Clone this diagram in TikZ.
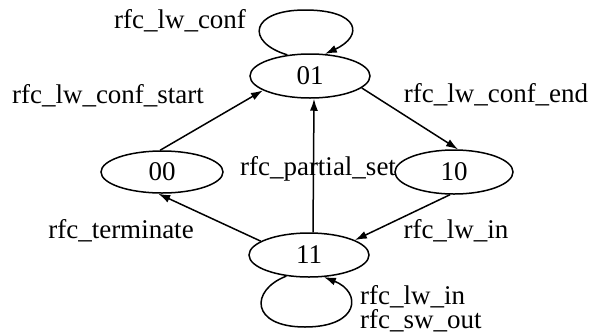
\documentclass[tikz,border=0pt]{standalone}
\usepackage{fontspec}
\setmainfont{Liberation Serif}
\usetikzlibrary{shapes.geometric,arrows.meta}
\begin{document}
\begin{tikzpicture}[x=1pt,y=-1pt,
  font=\fontsize{27}{30}\selectfont,
  state/.style={ellipse,draw,line width=1.5pt,inner sep=0pt,
    minimum width=120pt,minimum height=44pt},
  trans/.style={line width=1.5pt,-{Latex[length=12pt,width=8pt]}},
  lbl/.style={inner sep=0pt,anchor=base}]
\useasboundingbox (0,0) rectangle (591,335);

% states
\node[state] (s01) at (310,76)  {01};
\node[state,minimum width=122pt,minimum height=42pt] (s00) at (162,172) {00};
\node[state,minimum width=118pt] (s10) at (454,172) {10};
\node[state] (s11) at (309,255) {11};

% transitions
\draw[trans] (s00.95) -- (s01.197);
\draw[trans] (s01.-13) -- (s10.80);
\draw[trans] ([xshift=4pt]s11.north) -- ([xshift=4pt]s01.south);
\draw[trans] (s10.-100) -- (s11.18);
\draw[trans] (s11.164) -- (s00.-100);

% self loops
\draw[trans] (s01.137) .. controls (245,42) and (250,10) .. (305,10)
  .. controls (360,10) and (364,36) .. (s01.56);
\draw[trans] (s11.-137) .. controls (250,290) and (250,327) .. (305,327)
  .. controls (360,327) and (362,292) .. (s11.-56);

% transition labels
\node[lbl] (l1) at (180,28)  {rfc\_lw\_conf};
\node[lbl] (l2) at (108,103) {rfc\_lw\_conf\_start};
\node[lbl] (l3) at (496,102) {rfc\_lw\_conf\_end};
\node[lbl] (l4) at (318,175) {rfc\_partial\_set};
\node[lbl] (l5) at (121,238) {rfc\_terminate};
\node[lbl] (l6) at (456,238) {rfc\_lw\_in};
% two-line label of the loop on 11; base anchor sits on the last line
\node[lbl,anchor=base west,align=left,font=\fontsize{27}{24}\selectfont]
  (l7) at (360,328) {rfc\_lw\_in\\rfc\_sw\_out};
\end{tikzpicture}
\end{document}
